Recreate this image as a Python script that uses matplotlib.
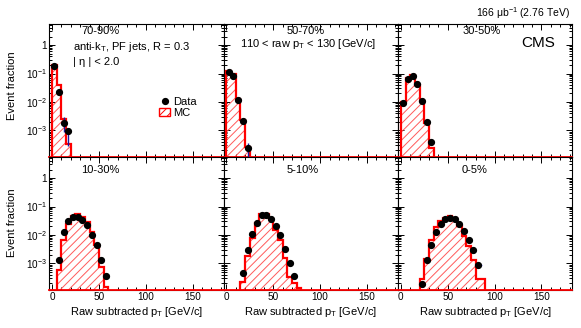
import numpy as np
import matplotlib
matplotlib.use("Agg")
import matplotlib.pyplot as plt
from matplotlib.ticker import MultipleLocator, LogLocator, FixedLocator, FixedFormatter, NullFormatter
from matplotlib.lines import Line2D
from matplotlib.patches import Patch

plt.rcParams['font.family'] = ['Liberation Sans', 'DejaVu Sans']
plt.rcParams['mathtext.fontset'] = 'custom'
plt.rcParams['mathtext.rm'] = 'Liberation Sans'
plt.rcParams['mathtext.it'] = 'Liberation Sans:italic'
plt.rcParams['hatch.linewidth'] = 0.7

# ---------------- data ----------------
centralities = ["70-90%", "50-70%", "30-50%", "10-30%", "5-10%", "0-5%"]

edges_7090 = [0, 5, 10, 15, 20]
mc_7090 = [0.20, 0.040, 2.5e-3, 3.4e-4]
data_7090 = [0.19, 0.023, 1.9e-3, 9.5e-4]
errlo_7090 = [0, 0, 1.0e-3, 6.6e-4]
errhi_7090 = [0, 0, 1.0e-3, 3.0e-4]

edges_5070 = [0, 5, 10, 15, 20, 25]
mc_5070 = [0.12, 0.096, 0.0125, 2.3e-3, 2.7e-4]
data_5070 = [0.116, 0.082, 0.0117, 2.2e-3, 2.4e-4]
errlo_5070 = [0, 0, 0, 0, 2.0e-4]
errhi_5070 = [0, 0, 0, 0, 1.3e-4]

edges_3050 = [0, 5, 10, 15, 20, 25, 30, 35]
mc_3050 = [0.0103, 0.068, 0.089, 0.039, 0.0108, 1.9e-3, 2.4e-4]
data_3050 = [0.0090, 0.066, 0.082, 0.042, 0.0108, 2.0e-3, 4.0e-4]

edges_1030 = [5, 10, 15, 20, 25, 30, 35, 40, 45, 50, 55, 60]
mc_1030 = [5.8e-4, 6.9e-3, 0.025, 0.046, 0.053, 0.043, 0.029, 0.013, 0.0044, 7.5e-4, 1.5e-4]
data_1030 = [1.3e-3, 0.013, 0.031, 0.043, 0.043, 0.033, 0.023, 0.0098, 0.0043, 1.3e-3, 3.5e-4]

edges_0510 = [15, 20, 25, 30, 35, 40, 45, 50, 55, 60, 65, 70, 75, 80]
mc_0510 = [2.2e-4, 1.9e-3, 8.1e-3, 0.027, 0.054, 0.054, 0.036, 0.0155, 0.0065, 0.0016, 3.3e-4, 2.0e-4, 1.4e-4]
data_0510 = [4.5e-4, 2.9e-3, 0.011, 0.027, 0.049, 0.049, 0.036, 0.021, 0.0098, 0.0033, 1.03e-3, 3.5e-4]

edges_0005 = [20, 25, 30, 35, 40, 45, 50, 55, 60, 65, 70, 75, 80, 85, 90]
mc_0005 = [2.9e-4, 1.4e-3, 6.6e-3, 0.019, 0.031, 0.041, 0.046, 0.040, 0.021, 0.0093, 0.0042, 1.3e-3, 2.9e-4, 2.9e-4]
data_0005 = [1.9e-4, 1.37e-3, 4.6e-3, 0.013, 0.025, 0.036, 0.041, 0.036, 0.025, 0.0136, 0.0066, 0.0029, 8.7e-4]

xticks = [0, 50, 100, 150]
ytick_vals = [1e-3, 1e-2, 1e-1, 1]
ytick_labels = [r'$\mathregular{10^{-3}}$', r'$\mathregular{10^{-2}}$', r'$\mathregular{10^{-1}}$', '1']

panels = [
    (edges_7090, mc_7090, data_7090, errlo_7090, errhi_7090),
    (edges_5070, mc_5070, data_5070, errlo_5070, errhi_5070),
    (edges_3050, mc_3050, data_3050, None, None),
    (edges_1030, mc_1030, data_1030, None, None),
    (edges_0510, mc_0510, data_0510, None, None),
    (edges_0005, mc_0005, data_0005, None, None),
]

# ---------------- layout ----------------
FW, FH = 581, 328
fig = plt.figure(figsize=(FW / 100, FH / 100), dpi=100)
L = 49.2 / FW
W = 174.4 / FW
H = 133 / FH
bottoms = [(FH - 157) / FH, (FH - 290) / FH]
YLO, YHI = 1.17e-4, 5.5
XLO, XHI = -3, 183
MS = 4.2

axes = []
for i, (edges, mc, data, elo, ehi) in enumerate(panels):
    r, c = divmod(i, 3)
    ax = fig.add_axes([L + c * W, bottoms[r], W, H])
    axes.append(ax)
    ax.set_yscale('log')
    ax.set_xlim(XLO, XHI)
    ax.set_ylim(YLO, YHI)
    edges = np.array(edges, float)
    ax.stairs(mc, edges, baseline=1e-8, fill=True, facecolor='none',
              edgecolor='#ff5a5a', linewidth=0, hatch='////', zorder=2)
    ax.stairs(mc, edges, baseline=1e-8, color='red', lw=1.6, zorder=3)
    ax.axhline(YLO, color='red', lw=1.3, zorder=3, clip_on=False)
    centers = 0.5 * (edges[:-1] + edges[1:])[:len(data)]
    if elo is not None:
        m = np.array(elo) > 0
        ax.errorbar(centers[m], np.array(data)[m],
                    yerr=[np.array(elo)[m], np.array(ehi)[m]],
                    fmt='none', ecolor='#1a1aa0', elinewidth=1.0, zorder=4)
    if i == 5:
        ax.errorbar([centers[-1]], [data[-1]], xerr=[[0], [4]], fmt='none',
                    ecolor='#9090ff', elinewidth=1.0, zorder=4)
    ax.plot(centers, data, 'o', color='k', ms=MS, zorder=5, clip_on=False)

    ax.xaxis.set_major_locator(FixedLocator(xticks))
    ax.xaxis.set_minor_locator(MultipleLocator(10))
    ax.yaxis.set_major_locator(FixedLocator(ytick_vals))
    ax.yaxis.set_minor_locator(LogLocator(base=10, subs=np.arange(2, 10), numticks=20))
    ax.yaxis.set_minor_formatter(NullFormatter())
    ax.tick_params(which='both', direction='in', top=True, right=True,
                   labelsize=7.2, pad=1.5, width=0.7)
    ax.tick_params(which='major', length=4.5)
    ax.tick_params(which='minor', length=2.2)
    if c == 0:
        ax.yaxis.set_major_formatter(FixedFormatter(ytick_labels))
    else:
        ax.yaxis.set_major_formatter(NullFormatter())
    if r == 1:
        ax.set_xticklabels([str(t) for t in xticks])
        ax.set_xlabel(r'Raw subtracted p$_\mathregular{T}$ [GeV/c]', fontsize=8, labelpad=2)
    else:
        ax.set_xticklabels([])
    for s in ax.spines.values():
        s.set_linewidth(0.8)

fs = 8
# centrality labels
cent_pos = [(0.292, 0.947), (0.473, 0.947), (0.48, 0.947),
            (0.292, 0.902), (0.453, 0.902), (0.441, 0.902)]
for ax, lab, (x, y) in zip(axes, centralities, cent_pos):
    ax.text(x, y, lab, transform=ax.transAxes, ha='center', va='center', fontsize=fs)

axes[0].text(0.47, 0.827, r'anti-k$_\mathregular{T}$, PF jets, R = 0.3', transform=axes[0].transAxes,
             ha='center', va='center', fontsize=fs)
axes[0].text(0.136, 0.717, '| η | < 2.0', transform=axes[0].transAxes,
             ha='left', va='center', fontsize=fs)
axes[1].text(0.485, 0.847, r'110 < raw p$_\mathregular{T}$ < 130 [GeV/c]', transform=axes[1].transAxes,
             ha='center', va='center', fontsize=fs)
axes[2].text(0.806, 0.86, 'CMS', transform=axes[2].transAxes,
             ha='center', va='center', fontsize=11)
fig.text(569.5 / FW, 1 - 13.3 / FH, r'166 μb$^{-1}$ (2.76 TeV)', ha='right', va='center', fontsize=7.5)

handles = [Line2D([], [], marker='o', color='k', ls='none', ms=MS),
           Patch(facecolor='none', edgecolor='red', hatch='////', lw=1.0)]
axes[0].legend(handles, ['Data', 'MC'], loc='upper left', bbox_to_anchor=(0.63, 0.455),
               frameon=False, fontsize=fs, handlelength=1.0, handleheight=0.8,
               handletextpad=0.3, labelspacing=0.1, borderpad=0, borderaxespad=0)

fig.text(12.5 / FW, 1 - 86 / FH, 'Event fraction', rotation=90, ha='center', va='center', fontsize=fs)
fig.text(12.5 / FW, 1 - 223 / FH, 'Event fraction', rotation=90, ha='center', va='center', fontsize=fs)

fig.savefig('out.png', dpi=100)
